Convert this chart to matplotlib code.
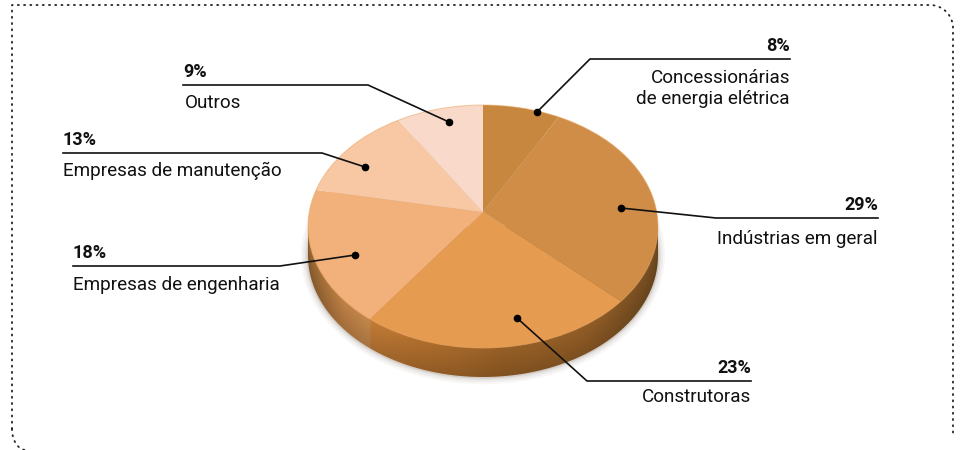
import numpy as np
import matplotlib
matplotlib.use("Agg")
import matplotlib.pyplot as plt
from matplotlib.colors import LinearSegmentedColormap
from matplotlib.patches import Ellipse, PathPatch
from matplotlib.path import Path

plt.rcParams['font.family'] = ['Roboto', 'DejaVu Sans']

names = ["Concessionárias\nde energia elétrica", "Indústrias em geral", "Construtoras",
         "Empresas de engenharia", "Empresas de manutenção", "Outros"]
values = [8, 29, 23, 18, 13, 9]
colors = ["#c8873f", "#cf8d47", "#e59b50", "#f2b07a", "#f7c8a3", "#f9d9c9"]
rim_stops = [(0, "#8f6030"), (0.1, "#b57a42"), (0.175, "#b98048"), (0.18, "#b87534"), (0.3, "#a96a2c"),
             (0.55, "#8f5a24"), (0.8, "#8a5824"), (1, "#6f4a20")]

# pixel positions of the callouts: text x, line y, elbow x, dot x, dot y, side, text offset
callouts = [
    (790, 59, 590, 537, 112, "r", 10),
    (878, 218, 716, 621, 208, "r", 12),
    (751, 381, 587, 517, 318, "r", 7),
    (73, 266, 280, 355, 255, "l", 10),
    (63, 153, 322, 365, 167, "l", 9),
    (183, 85, 368, 449, 122, "l", 9),
]

W, H = 962, 450
fig = plt.figure(figsize=(W / 100, H / 100), dpi=100)

# pie axes, ellipse of the top face, with room below for the rim
x0, x1, y0, y1 = 308, 658, 105, 348
ry = (y1 - y0) / 2
extra = 60
ax = fig.add_axes([(x0 - 20) / W, 1 - (y1 + extra) / H, (x1 - x0 + 40) / W, (y1 + extra - y0 + 20) / H])
depth = 29 / ry
xl = (-1 - 20 / 175, 1 + 20 / 175)
yl_ = (-1 - extra / ry, 1 + 20 / ry)

# soft shadow under the rim
for grow, a in [(0.04, 0.04), (0.028, 0.06), (0.016, 0.08), (0.008, 0.12)]:
    ax.add_patch(Ellipse((0, -depth), 2 + grow * 2, 2 + grow * 3, fc="#5a4530", ec="none", alpha=a, zorder=0))

# rim, darker towards its lower edge
t = np.linspace(np.pi, 2 * np.pi, 120)
rim_x = np.r_[-1, np.cos(t), 1, 1, -1]
rim_y = np.r_[0, np.sin(t) - depth, -depth, 0, 0]
rim_path = Path(np.c_[rim_x, rim_y])
cmap = LinearSegmentedColormap.from_list("rim", rim_stops, N=512)
gx, gy = np.meshgrid(np.linspace(-1, 1, 512), np.linspace(0, -1 - depth, 200))
frac = np.clip((-np.sqrt(1 - gx ** 2) - gy) / depth, 0, 1)
rgb = cmap((gx + 1) / 2)[..., :3] * (1.06 - 0.16 * frac)[..., None]
im = ax.imshow(np.clip(rgb, 0, 1), extent=(-1, 1, -1 - depth, 0), aspect="auto", zorder=1)
im.set_clip_path(PathPatch(rim_path, transform=ax.transData))

wedges, _ = ax.pie(values, colors=colors, startangle=90, counterclock=False, radius=1,
                   wedgeprops=dict(linewidth=0, zorder=2))
ax.set_aspect("auto")
ax.set_xlim(*xl)
ax.set_ylim(*yl_)

# the picture is in perspective: map the circle to itself, moving the centre up
c = 0.12
for w in wedges:
    p = w.get_path()
    v = np.array(p.vertices)
    d = 1 + c * v[:, 1]
    w._path = Path(np.c_[v[:, 0] * np.sqrt(1 - c * c) / d, (v[:, 1] + c) / d], p.codes)
ax.add_patch(Ellipse((0, 0), 2, 2, fc="none", ec="#e8a868", lw=0.7, alpha=0.6, zorder=3))
ax.axis("off")

# overlay in pixels
ov = fig.add_axes([0, 0, 1, 1], facecolor="none")
ov.set_xlim(0, W)
ov.set_ylim(H, 0)
ov.axis("off")

for name, val, co in zip(names, values, callouts):
    xt, yl, xe, xd, yd, side, off = co
    ha = "right" if side == "r" else "left"
    ov.plot([xt, xe, xd], [yl, yl, yd], color="#111111", lw=1.2, solid_joinstyle="miter")
    ov.plot([xd], [yd], "o", color="black", ms=4.5)
    ov.text(xt, yl - 4, f"{val}%", ha=ha, va="bottom", fontsize=13, fontweight="bold", color="#111111")
    ov.text(xt + (2 if name == "Outros" else 0), yl + off, name, ha=ha, va="top", fontsize=13.6,
            color="#111111", linespacing=1.2)

# dotted frame
dots = dict(color="#222222", lw=1.3, ls=(0, (0.6, 2.85)), dash_capstyle="round")
a = np.linspace(0, np.pi / 2, 20)
ov.plot(np.r_[12, 12, 930 + 23 * np.sin(a), 953], np.r_[429, 5, 28 - 23 * np.cos(a), 437], **dots)
ov.plot(12 + 14 - 14 * np.cos(a), 429 + 21 * np.sin(a), **dots)

fig.savefig("out.png", dpi=100)
